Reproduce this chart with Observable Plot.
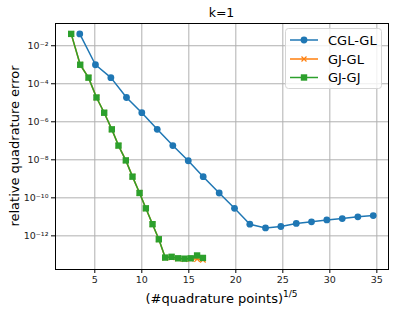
<!DOCTYPE html>
<html><head><meta charset="utf-8">
<script src="https://cdn.jsdelivr.net/npm/d3@7"></script>
<script src="https://cdn.jsdelivr.net/npm/@observablehq/plot@0.6"></script>
<style>body{margin:0;background:#fff} #chart{width:398px;height:311px}</style>
</head><body><div id="chart"></div>
<script>
// CGL-GL (blue, circles)
const cglX = [3.40,5.07,6.71,8.37,10.0,11.64,13.3,14.94,16.53,18.23,19.86,21.49,23.16,24.79,26.43,28.05,29.68,31.32,32.98,34.62];
const cglErr = [4.2e-2,1.0e-3,2.1e-4,1.9e-5,3.0e-6,4.0e-7,5.6e-8,8.9e-9,1.3e-9,1.8e-10,2.8e-11,4.1e-12,2.6e-12,3.1e-12,4.5e-12,5.5e-12,6.9e-12,8.1e-12,1.0e-11,1.17e-11];
// GJ-GL (orange, x markers)
const gjglX = [2.49,3.45,4.33,5.18,6.0,6.81,7.52,8.30,9.01,9.76,10.43,11.14,11.81,12.49,13.17,13.86,14.54,15.2,15.88,16.5];
const gjglErr = [4.2e-2,1.0e-3,2.1e-4,1.9e-5,3.0e-6,4.0e-7,5.6e-8,9.3e-9,1.3e-9,1.8e-10,2.8e-11,4.1e-12,6.6e-13,7.0e-14,7.5e-14,6.4e-14,6.0e-14,6.2e-14,6.0e-14,5.5e-14];
// GJ-GJ (green, squares)
const gjgjX = [2.49,3.45,4.33,5.18,6.0,6.81,7.52,8.30,9.01,9.76,10.43,11.14,11.81,12.49,13.17,13.86,14.54,15.2,15.88,16.5];
const gjgjErr = [4.2e-2,1.0e-3,2.1e-4,1.9e-5,3.0e-6,4.0e-7,5.6e-8,9.3e-9,1.3e-9,1.8e-10,2.8e-11,4.1e-12,6.6e-13,7.2e-14,7.9e-14,6.6e-14,6.3e-14,6.6e-14,9.3e-14,6.9e-14];

const seriesNames = ["CGL-GL","GJ-GL","GJ-GJ"];
const seriesColors = ["#1f77b4","#ff7f0e","#2ca02c"];
const xTicks = [5,10,15,20,25,30,35];
const yTicks = [1e-2,1e-4,1e-6,1e-8,1e-10,1e-12];
const titleText = "k=1";
const yLabel = "relative quadrature error";
const xLabelMain = "(#quadrature points)";
const xLabelSup = "1/5";

const toRows = (xs, ys, s) => xs.map((x, i) => ({x, y: ys[i], s}));
const cgl = toRows(cglX, cglErr, seriesNames[0]);
const gjgl = toRows(gjglX, gjglErr, seriesNames[1]);
const gjgj = toRows(gjgjX, gjgjErr, seriesNames[2]);

const sup = {"0":"⁰","1":"¹","2":"²","3":"³","4":"⁴","5":"⁵","6":"⁶","7":"⁷","8":"⁸","9":"⁹","-":"⁻"};
const fmtPow = d => "10" + String(Math.round(Math.log10(d))).split("").map(c => sup[c]).join("");

const font = "DejaVu Sans";
const chart = Plot.plot({
  width: 398, height: 311,
  marginLeft: 55, marginRight: 10, marginTop: 23, marginBottom: 42,
  style: {fontFamily: font, fontSize: "9.5px", color: "#000", background: "#fff"},
  x: {domain: [0.82, 36.24]},
  y: {type: "log", domain: [Math.pow(10,-13.77), Math.pow(10,-0.83)]},
  marks: [
    Plot.gridX(xTicks, {stroke: "#b0b0b0", strokeOpacity: 1, strokeWidth: 1}),
    Plot.gridY(yTicks, {stroke: "#b0b0b0", strokeOpacity: 1, strokeWidth: 1}),
    Plot.axisX(xTicks, {tickSize: 4, tickPadding: 3, label: null, stroke: "#000", fill: "#222"}),
    Plot.axisY(yTicks, {tickSize: 4, tickPadding: 3, label: null, tickFormat: fmtPow, stroke: "#000", fill: "#222"}),
    Plot.line(cgl, {x: "x", y: "y", stroke: seriesColors[0], strokeWidth: 1.5}),
    Plot.dot(cgl, {x: "x", y: "y", fill: seriesColors[0], r: 3.4, symbol: "circle"}),
    Plot.line(gjgl, {x: "x", y: "y", stroke: seriesColors[1], strokeWidth: 1.5}),
    Plot.dot(gjgl, {x: "x", y: "y", stroke: seriesColors[1], r: 2.6, symbol: "times", strokeWidth: 1.2}),
    Plot.line(gjgj, {x: "x", y: "y", stroke: seriesColors[2], strokeWidth: 1.5}),
    Plot.dot(gjgj, {x: "x", y: "y", fill: seriesColors[2], r: 3.6, symbol: "square"}),
    Plot.frame({stroke: "#000", strokeWidth: 1})
  ]
});
document.getElementById("chart").append(chart);

const svg = d3.select(chart);
const cx = (55 + 388) / 2;
svg.append("text").attr("x", cx).attr("y", 17).attr("text-anchor", "middle")
  .attr("font-family", font).attr("font-size", 12.5).attr("fill", "#000").text(titleText);
svg.append("text").attr("transform", `translate(19,146) rotate(-90)`).attr("text-anchor", "middle")
  .attr("font-family", font).attr("font-size", 13).attr("fill", "#000").text(yLabel);
const xl = svg.append("text").attr("x", cx).attr("y", 303).attr("text-anchor", "middle")
  .attr("font-family", font).attr("font-size", 13).attr("fill", "#000");
xl.append("tspan").text(xLabelMain);
xl.append("tspan").attr("font-size", 9).attr("dy", -6).text(xLabelSup);

// legend
const lg = svg.append("g");
lg.append("rect").attr("x", 285.5).attr("y", 28.5).attr("width", 96).attr("height", 60).attr("rx", 3)
  .attr("fill", "#fff").attr("fill-opacity", 0.8).attr("stroke", "#d5d5d5");
const rowsY = [40, 59, 77.5];
seriesNames.forEach((name, i) => {
  const y = rowsY[i], c = seriesColors[i];
  lg.append("line").attr("x1", 290).attr("x2", 318).attr("y1", y).attr("y2", y).attr("stroke", c).attr("stroke-width", 1.5);
  if (i === 0) lg.append("circle").attr("cx", 304).attr("cy", y).attr("r", 3.4).attr("fill", c);
  if (i === 1) lg.append("path").attr("d", `M301.5,${y-2.5}L306.5,${y+2.5}M301.5,${y+2.5}L306.5,${y-2.5}`).attr("stroke", c).attr("stroke-width", 1.2);
  if (i === 2) lg.append("rect").attr("x", 300.8).attr("y", y - 3.2).attr("width", 6.4).attr("height", 6.4).attr("fill", c);
  lg.append("text").attr("x", 328).attr("y", y + 4.5).attr("text-anchor", "start").attr("font-family", font).attr("font-size", 13)
    .attr("fill", "#000").text(name);
});
</script></body></html>
